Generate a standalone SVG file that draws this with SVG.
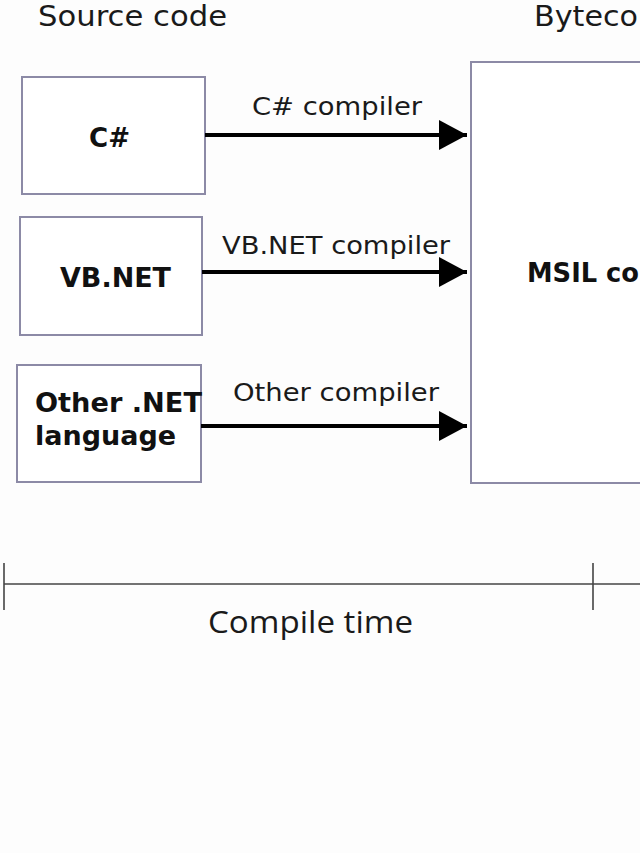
<svg xmlns="http://www.w3.org/2000/svg" width="640" height="853" viewBox="0 0 640 853">
<defs>
<style>
.box{fill:#ffffff;stroke:#8c8aa6;stroke-width:2}
.hdr{font-family:"DejaVu Sans",sans-serif;font-size:29px;fill:#1a1a1a}
.lbl{font-family:"DejaVu Sans",sans-serif;font-size:25px;fill:#1a1a1a}
.node{font-family:"DejaVu Sans",sans-serif;font-size:26px;font-weight:bold;fill:#111}
.edge{stroke:#000;stroke-width:4;fill:none}
.axis{stroke:#444;stroke-width:1.6;fill:none}
.time{font-family:"Open Sans",sans-serif;font-size:31px;fill:#1a1a1a}
</style>
<marker id="ah" viewBox="0 0 28 30" refX="28" refY="15" markerWidth="28" markerHeight="30" markerUnits="userSpaceOnUse" orient="auto">
<polygon points="0,0 28,15 0,30" fill="#000"/>
</marker>
</defs>
<rect width="640" height="853" fill="#fdfdfd"/>
<text class="hdr" x="38" y="26" textLength="189" lengthAdjust="spacingAndGlyphs">Source code</text>
<text class="hdr" x="534" y="26" textLength="104" lengthAdjust="spacingAndGlyphs">Byteco</text>
<g id="msil">
<rect class="box" x="471" y="62" width="200" height="421"/>
<text class="node" x="527" y="282" textLength="112" lengthAdjust="spacingAndGlyphs">MSIL co</text>
</g>
<g id="csharp">
<rect class="box" x="22" y="77" width="183" height="117"/>
<text class="node" x="89" y="147" textLength="41" lengthAdjust="spacingAndGlyphs">C#</text>
</g>
<g id="vbnet">
<rect class="box" x="20" y="217" width="182" height="118"/>
<text class="node" x="60" y="287" textLength="111" lengthAdjust="spacingAndGlyphs">VB.NET</text>
</g>
<g id="other">
<rect class="box" x="17" y="365" width="184" height="117"/>
<text class="node" x="35" y="412" textLength="167" lengthAdjust="spacingAndGlyphs">Other .NET</text>
<text class="node" x="35" y="445" textLength="141" lengthAdjust="spacingAndGlyphs">language</text>
</g>
<g id="connectors">
<line class="edge" x1="205" y1="135" x2="467" y2="135" marker-end="url(#ah)"/>
<line class="edge" x1="202" y1="272" x2="467" y2="272" marker-end="url(#ah)"/>
<line class="edge" x1="201" y1="426" x2="467" y2="426" marker-end="url(#ah)"/>
<text class="lbl" x="252" y="115" textLength="170" lengthAdjust="spacingAndGlyphs">C# compiler</text>
<text class="lbl" x="222" y="254" textLength="228" lengthAdjust="spacingAndGlyphs">VB.NET compiler</text>
<text class="lbl" x="233" y="401" textLength="206" lengthAdjust="spacingAndGlyphs">Other compiler</text>
</g>
<g id="timeline">
<line class="axis" x1="4" y1="584" x2="640" y2="584"/>
<line class="axis" x1="4" y1="563" x2="4" y2="610"/>
<line class="axis" x1="593" y1="563" x2="593" y2="610"/>
<text class="time" x="208" y="633" textLength="205" lengthAdjust="spacingAndGlyphs">Compile time</text>
</g>
</svg>
